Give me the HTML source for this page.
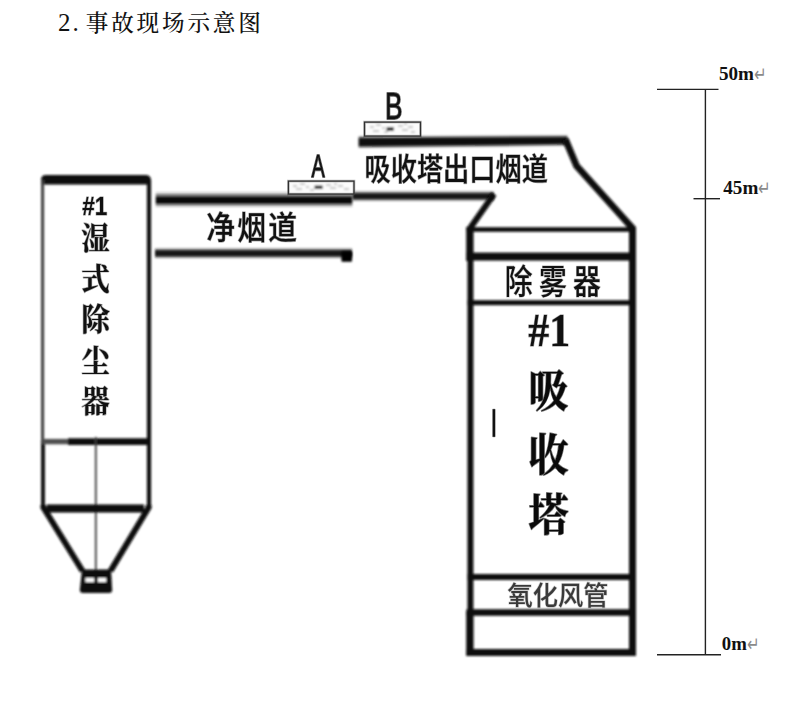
<!DOCTYPE html>
<html lang="zh-CN">
<head>
<meta charset="utf-8">
<title>事故现场示意图</title>
<style>
html,body{margin:0;padding:0;background:#fff;width:806px;height:701px;overflow:hidden}
svg{display:block;position:absolute;left:0;top:0}
.song{font-family:"Liberation Serif","Noto Serif CJK SC",serif}
.hei{font-family:"Liberation Sans","Noto Sans CJK SC",sans-serif}
.tnr{font-family:"Liberation Serif",serif;font-weight:700}
.ret{font-family:"DejaVu Sans","Liberation Sans",sans-serif;fill:#8a8a8a}
</style>
</head>
<body>
<svg width="806" height="701" viewBox="0 0 806 701">
<defs>
<filter id="soft" x="-5%" y="-5%" width="110%" height="110%"><feGaussianBlur stdDeviation="0.8"/></filter>
<filter id="softL" x="-5%" y="-5%" width="110%" height="110%"><feGaussianBlur stdDeviation="1.0"/></filter>
<filter id="softD" x="-5%" y="-20%" width="110%" height="140%"><feGaussianBlur stdDeviation="0.9 1.5"/></filter>
<linearGradient id="gTop" gradientUnits="userSpaceOnUse" x1="0" y1="190" x2="0" y2="209">
<stop offset="0.000" stop-color="#000" stop-opacity="0"/>
<stop offset="0.042" stop-color="#000" stop-opacity="0.03"/>
<stop offset="0.126" stop-color="#000" stop-opacity="0.12"/>
<stop offset="0.195" stop-color="#000" stop-opacity="0.3"/>
<stop offset="0.258" stop-color="#000" stop-opacity="0.47"/>
<stop offset="0.337" stop-color="#000" stop-opacity="0.68"/>
<stop offset="0.416" stop-color="#000" stop-opacity="0.9"/>
<stop offset="0.463" stop-color="#000" stop-opacity="0.97"/>
<stop offset="0.600" stop-color="#000" stop-opacity="0.97"/>
<stop offset="0.653" stop-color="#000" stop-opacity="0.88"/>
<stop offset="0.705" stop-color="#000" stop-opacity="0.7"/>
<stop offset="0.784" stop-color="#000" stop-opacity="0.45"/>
<stop offset="0.858" stop-color="#000" stop-opacity="0.2"/>
<stop offset="0.947" stop-color="#000" stop-opacity="0.04"/>
<stop offset="1.000" stop-color="#000" stop-opacity="0"/>
</linearGradient>
<filter id="softX" x="-5%" y="-5%" width="110%" height="110%"><feGaussianBlur stdDeviation="1.0 0"/></filter>
<filter id="mono" x="0" y="0" width="100%" height="100%" color-interpolation-filters="sRGB"><feColorMatrix type="saturate" values="0"/></filter>
</defs>
<rect width="806" height="701" fill="#fff"/>

<!-- title -->
<g id="title">
<text class="song" font-weight="500" fill="#111" y="30.8"><tspan font-size="25" x="58 72.4">2.</tspan><tspan font-size="22.6" x="85.8 111.2 136.6 162 187.4 212.8 238.2">事故现场示意图</tspan></text>
</g>

<!-- horizontal duct walls -->
<g id="duct-top" filter="url(#softX)">
  <rect x="155.7" y="190" width="196.6" height="19" fill="url(#gTop)"/>
</g>
<g id="ducts" filter="url(#softD)">
  <rect x="155" y="249.4" width="197" height="7.7" fill="#161616"/>
  <path d="M358.6 137.2 L567.5 136.3 V144.8 L358.6 147.1 Z" fill="#080808"/>
  <rect x="352.3" y="192.4" width="141.5" height="7.5" fill="#161616"/>
</g>

<!-- diagram line work -->
<g id="lines" filter="url(#softL)">
  <!-- wet deduster vessel -->
  <g id="deduster-lines">
    <path d="M41 184.5 V180 Q41 175 46 175 H145.5 Q151 175 151 180.5 V184.5 Z" fill="#0c0c0c"/>
    <line x1="42.6" y1="180" x2="42.6" y2="440" stroke="#3c3c3c" stroke-width="3"/>
    <line x1="43" y1="440" x2="43" y2="508" stroke="#141414" stroke-width="4"/>
    <line x1="149" y1="180" x2="149" y2="508" stroke="#0c0c0c" stroke-width="4.2"/>
    <line x1="42" y1="441.6" x2="70" y2="441.6" stroke="#505050" stroke-width="5.4"/>
    <line x1="68" y1="441.6" x2="150" y2="441.6" stroke="#0c0c0c" stroke-width="6.6"/>
    <line x1="95.8" y1="437" x2="95.8" y2="572" stroke="#3a3a3a" stroke-width="1.8"/>
    <line x1="47" y1="508.4" x2="144" y2="508.4" stroke="#0c0c0c" stroke-width="8"/>
    <path d="M43.4 505 V507.5 L82.5 571" fill="none" stroke="#0c0c0c" stroke-width="6" stroke-linejoin="round"/>
    <path d="M148.6 505 V507.5 L110.5 571" fill="none" stroke="#0c0c0c" stroke-width="6" stroke-linejoin="round"/>
    <path d="M82 569.5 H111 L112.2 590 Q112.2 593 109 593 H83 Q79.8 593 79.8 590 Z" fill="#0c0c0c"/>
    <rect x="85.4" y="578" width="8.6" height="4" fill="#fff"/>
    <rect x="98" y="578" width="8.2" height="4" fill="#fff"/>
  </g>
  <!-- absorber outlet duct -->
  <g id="outduct-lines">
    <rect x="341.4" y="251.6" width="10.6" height="10.2" rx="1" fill="#000"/>
    <path d="M565.4 139.4 L576.6 166 L633.2 229" fill="none" stroke="#0c0c0c" stroke-width="6.8" stroke-linejoin="miter"/>
    <path d="M494 194 L469.5 229" fill="none" stroke="#0c0c0c" stroke-width="6"/>
  </g>
  <!-- absorber tower -->
  <g id="tower-lines">
    <rect x="467.4" y="227" width="6" height="385" fill="#0c0c0c"/>
    <rect x="466.2" y="611" width="7.4" height="45" fill="#0c0c0c"/>
    <rect x="466.2" y="227" width="7" height="34" fill="#0c0c0c"/>
    <rect x="629" y="227" width="7" height="429" fill="#0c0c0c"/>
    <rect x="466.5" y="227.2" width="169.5" height="4.6" fill="#0c0c0c"/>
    <rect x="466.5" y="252.6" width="169.5" height="8" fill="#0c0c0c"/>
    <rect x="467.6" y="300.2" width="168.4" height="5" fill="#0c0c0c"/>
    <rect x="467.6" y="574" width="168.4" height="6" fill="#0c0c0c"/>
    <rect x="466.5" y="609.2" width="169.5" height="6.6" fill="#0c0c0c"/>
    <rect x="466.5" y="649" width="169.5" height="7" rx="1.5" fill="#0c0c0c"/>
  </g>
</g>

<!-- sample point boxes -->
<g id="box-fill" filter="url(#soft)">
  <rect x="288.5" y="181.1" width="65.4" height="13" fill="#fcfcfc"/>
  <path d="M293 186h4M300 184h5M296 189h6M306 187h3M326 185h5M330 188h6M338 186h5M344 189h5M310 190h4M334 184h3" stroke="#b5b5b5" stroke-width="1.6" fill="none"/>
  <rect x="314.6" y="185.6" width="8" height="3.4" fill="#111"/>
  <rect x="364.6" y="122.1" width="55.8" height="14" fill="#fcfcfc"/>
  <path d="M370 127h4M376 125h5M373 131h6M382 128h3M398 126h5M402 130h6M408 127h5M411 132h4M384 132h4M404 124h3" stroke="#b5b5b5" stroke-width="1.6" fill="none"/>
  <rect x="386.6" y="127.2" width="7.2" height="3.6" fill="#111"/>
</g>
<g id="box-frame" fill="none">
  <rect x="288.4" y="181.1" width="65.6" height="13" stroke="#000" stroke-opacity="0.22" stroke-width="2.8"/>
  <rect x="288.4" y="181.1" width="65.6" height="13" stroke="#303030" stroke-width="1.3"/>
  <rect x="364.5" y="122.1" width="56" height="14" stroke="#000" stroke-opacity="0.22" stroke-width="2.8"/>
  <rect x="364.5" y="122.1" width="56" height="14" stroke="#303030" stroke-width="1.3"/>
</g>

<!-- diagram labels -->
<g id="labels" filter="url(#mono)" stroke="#000" stroke-opacity="0.32" stroke-width="1.3" paint-order="stroke" stroke-linejoin="round">
  <text class="hei" font-size="25" font-weight="700" fill="#111" transform="translate(94.7 215) scale(0.9 1)" text-anchor="middle">#1</text>
  <g class="song" font-size="30" font-weight="700" fill="#111" text-anchor="middle">
    <text transform="translate(95.6 249.4) scale(0.95 1.03)">湿</text>
    <text transform="translate(95.6 289.8) scale(0.95 1.03)">式</text>
    <text transform="translate(95.6 330.4) scale(0.95 1.03)">除</text>
    <text transform="translate(95.6 371.6) scale(0.95 1.03)">尘</text>
    <text transform="translate(95.6 412) scale(0.95 1.03)">器</text>
  </g>
  <text class="hei" font-size="32" font-weight="500" fill="#111" transform="translate(252.8 238.6) scale(0.9 1.0)" text-anchor="middle" letter-spacing="2.5">净烟道</text>
  <text class="hei" font-size="31" fill="#111" stroke-width="1.9" stroke-opacity="0.6" transform="translate(318.2 177) scale(0.64 1)" text-anchor="middle">A</text>
  <text class="hei" font-size="36.5" fill="#111" stroke-width="1.9" stroke-opacity="0.6" transform="translate(393.8 119.4) scale(0.72 1)" text-anchor="middle">B</text>
  <text class="hei" font-size="31" font-weight="500" fill="#111" transform="translate(456.2 179.9) scale(0.845 1)" text-anchor="middle">吸收塔出口烟道</text>
  <text class="hei" font-size="34" font-weight="500" fill="#111" stroke-opacity="0.22" transform="translate(555.9 294.2) scale(0.82 1)" text-anchor="middle" letter-spacing="7.5">除雾器</text>
  <text class="tnr" font-size="46" fill="#111" transform="translate(549.2 345.8) scale(0.91 1)" text-anchor="middle">#1</text>
  <g class="song" font-size="40" font-weight="700" fill="#0a0a0a" stroke-opacity="0.5" text-anchor="middle">
    <text transform="translate(548.5 407) scale(1 1.12)">吸</text>
    <text transform="translate(548.5 470.5) scale(1 1.12)">收</text>
    <text transform="translate(548.5 531) scale(1 1.12)">塔</text>
  </g>
  <rect x="492.7" y="409.2" width="2.4" height="27.6" fill="#111" stroke-width="1"/>
  <text class="hei" font-size="26" font-weight="500" fill="#3a3a3a" stroke-opacity="0.18" transform="translate(558 605) scale(0.97 1)" text-anchor="middle">氧化风管</text>
</g>

<!-- elevation scale -->
<g id="scale">
  <line x1="705.4" y1="89" x2="705.4" y2="655" stroke="#222" stroke-width="1.4"/>
  <line x1="657" y1="89.4" x2="718.5" y2="89.4" stroke="#222" stroke-width="1.4"/>
  <line x1="693.5" y1="198.7" x2="720" y2="198.7" stroke="#222" stroke-width="1.4"/>
  <line x1="657" y1="654.7" x2="721" y2="654.7" stroke="#222" stroke-width="1.4"/>
  <text class="tnr" font-size="19.6" fill="#111" x="719" y="80.2" textLength="35" lengthAdjust="spacingAndGlyphs">50m</text>
  <text class="ret" font-size="13.5" transform="translate(754.3 80.7) scale(1.1 1.5)">↵</text>
  <text class="tnr" font-size="19.6" fill="#111" x="723.3" y="194.3" textLength="35" lengthAdjust="spacingAndGlyphs">45m</text>
  <text class="ret" font-size="13.5" transform="translate(758.3 194.8) scale(1.1 1.5)">↵</text>
  <text class="tnr" font-size="19.6" fill="#111" x="721.8" y="650.2" textLength="25" lengthAdjust="spacingAndGlyphs">0m</text>
  <text class="ret" font-size="13.5" transform="translate(747.3 650.7) scale(1.1 1.5)">↵</text>
</g>
</svg>
</body>
</html>
